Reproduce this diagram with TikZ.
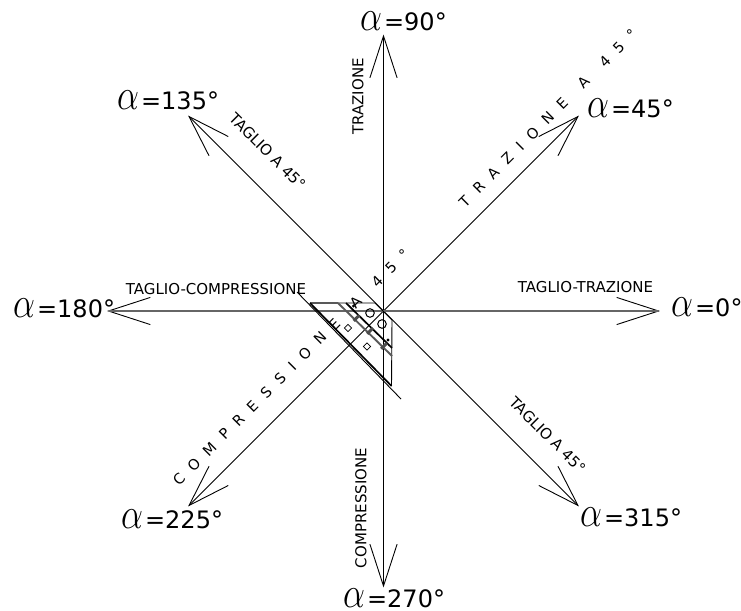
\documentclass[tikz,border=0pt]{standalone}
\usepackage{fontspec}
\setmainfont{DejaVu Sans}
\usetikzlibrary{calc}
\tikzset{
  axisline/.style={line width=0.9pt,black},
  flatline/.style={line width=1.7pt,black!60},
  small/.style={font=\fontsize{15}{17}\selectfont,inner sep=0pt},
  spaced/.style={font=\fontsize{14.5}{17}\selectfont,inner sep=0pt,rotate=45},
  big/.style={font=\fontsize{24}{26}\selectfont,inner sep=0pt,anchor=base west},
  thick1/.style={line width=1.7pt},
  thin1/.style={line width=0.9pt},
  grey1/.style={line width=1.9pt,black!65}
}
\newcommand{\alabel}[1]{\scalebox{1.4}[1.75]{$\alpha$}\kern2pt=#1°}
\newcommand{\gp}{\hspace{10.3pt}}
\begin{document}
\begin{tikzpicture}[x=1pt,y=-1pt]
\useasboundingbox (0,0) rectangle (741,610);
\coordinate (o) at (383.5,311);
\foreach \a in {0,45,...,315}{
  \coordinate (tip\a) at ($(o)+(-\a:275)$);
  \draw[axisline] ($(tip\a)+(-\a+180-18:44)$) -- (tip\a) -- ($(tip\a)+(-\a+180+18:44)$);
}
\foreach \a in {45,90,135,225,270,315}{ \draw[axisline] (o) -- (tip\a); }
\draw[flatline] (tip180) -- (tip0);
% set-square
\coordinate (a) at (310,303);
\coordinate (b) at (375,303);
\coordinate (c) at (392,320);
\coordinate (d) at (391.5,386);
\coordinate (e) at (338,303);
\coordinate (f) at (392,356);
\coordinate (g) at (346,303);
\coordinate (h) at (392,348);
\coordinate (i) at (297,292);
\coordinate (j) at (401,399);
\draw[thin1] (i) -- (j);
\draw[thin1] (a) -- (b) -- (c) -- (d);
\draw[grey1] (a) -- (e);
\draw[thick1] (a) -- (d);
\draw[grey1] (e) -- (f);
\draw[thick1] (g) -- (h);
\foreach \x/\y in {356.5/318,370/331,384/346}{
  \fill[black!70,rotate around={45:(\x,\y)}] (\x-4,\y-1.5) rectangle (\x+4,\y+1.5);
}
\foreach \x/\y in {353.5/306,388/340}{ \fill (\x,\y) circle (1.6); }
\foreach \x/\y in {348/328,367/346.5}{
  \draw[line width=0.7pt,rotate around={45:(\x,\y)}] (\x-2.6,\y-2.6) rectangle (\x+2.6,\y+2.6);
}
\foreach \x/\y in {370/313,382/324}{ \draw[line width=1pt] (\x,\y) circle (4.3); }
% labels on axes
\node[small,rotate=90] (ltr) at (358,96.5) {TRAZIONE};
\node[small,rotate=90] (lco) at (361,508) {COMPRESSIONE};
\node[small,rotate=-45] (lt1) at (267.5,151.5) {TAGLIO A 45°};
\node[small,rotate=-45] (lt2) at (547.5,435) {TAGLIO A 45°};
\node[small] (ltc) at (216,289) {TAGLIO-COMPRESSIONE};
\node[small] (ltt) at (585.5,286.7) {TAGLIO-TRAZIONE};
\node[spaced] (lta) at (548,118) {T\gp R\gp A\gp Z\gp I\gp O\gp N\gp E\gp\gp A\gp\gp 4\gp 5\gp °};
\node[spaced] (lcm) at (291,367.5) {C\gp O\gp M\gp P\gp R\gp E\gp S\gp S\gp I\gp O\gp N\gp E\gp\gp A\gp\gp 4\gp 5\gp °};
% alpha labels
\node[big] (a90) at (360,31) {\alabel{90}};
\node[big] (a45) at (587,117) {\alabel{45}};
\node[big] (a135) at (117,109) {\alabel{135}};
\node[big] (a180) at (13,317) {\alabel{180}};
\node[big] (a0) at (671,316) {\alabel{0}};
\node[big] (a225) at (121,528) {\alabel{225}};
\node[big] (a270) at (343,607) {\alabel{270}};
\node[big] (a315) at (580,526) {\alabel{315}};
\end{tikzpicture}
\end{document}
